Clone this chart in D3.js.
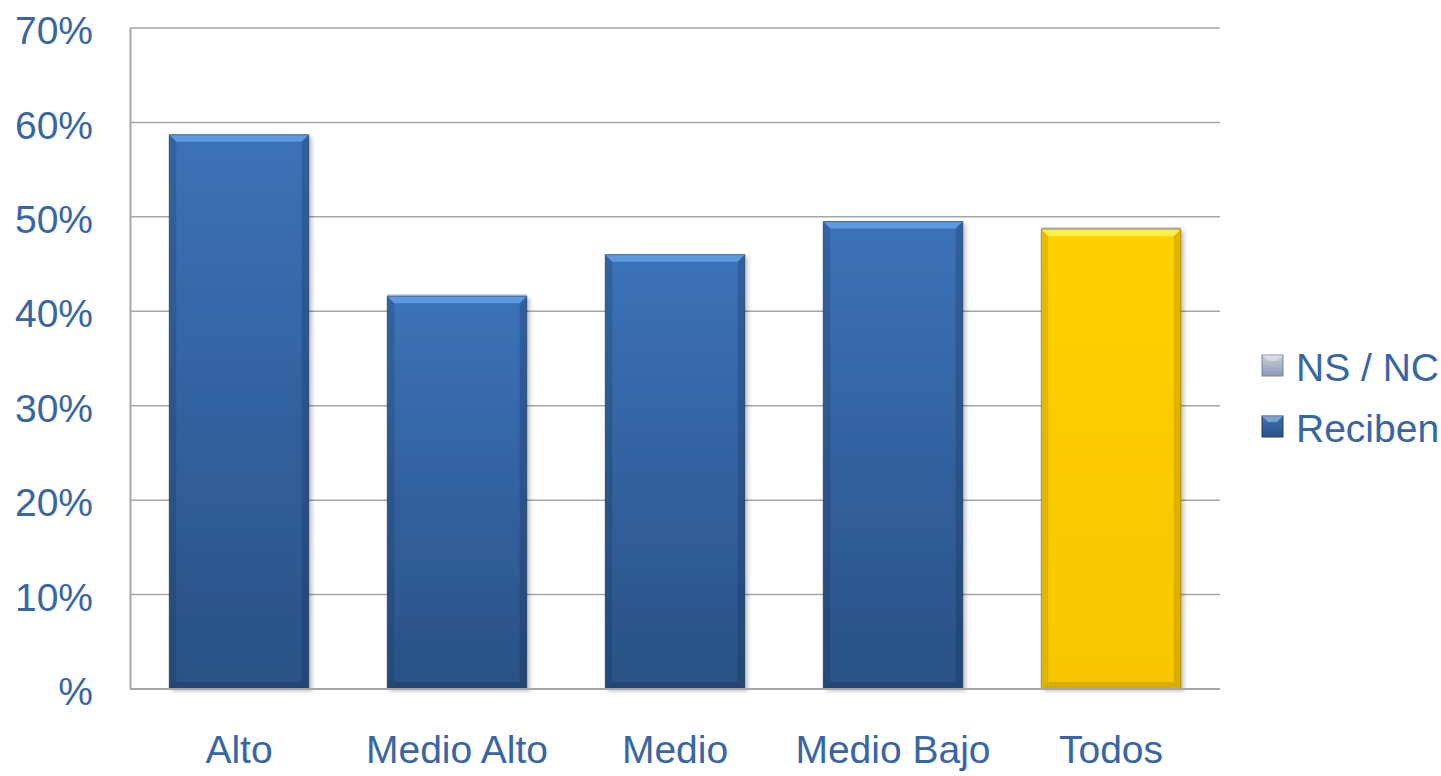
<!DOCTYPE html>
<html>
<head>
<meta charset="utf-8">
<title>Reciben</title>
<style>
body { margin: 0; background: #fff; }
svg { display: block; font-family: "Liberation Sans", Arial, sans-serif; }
.tick text { fill: #3866a4; font-size: 39px; }
</style>
</head>
<body>
<svg width="1441" height="776"></svg>
<script src="https://cdn.jsdelivr.net/npm/d3@7/dist/d3.min.js"></script>
<script>

var categories = ["Alto", "Medio Alto", "Medio", "Medio Bajo", "Todos"];
var reciben = [58.7, 41.6, 46.0, 49.5, 48.7];
var nsnc = [0.0, 0.2, 0.0, 0.0, 0.2];
var yTicks = [0, 10, 20, 30, 40, 50, 60, 70];
var legendKeys = ["NS / NC", "Reciben"];

var svg = d3.select("svg");
var plotLeft = 130, plotRight = 1220, plotTop = 28, plotBottom = 689;

var x = d3.scaleBand().domain(categories).range([plotLeft, plotRight])
    .paddingInner(0.36).paddingOuter(0.18);
var y = d3.scaleLinear().domain([0, 70]).range([plotBottom, plotTop]);

var defs = svg.append("defs");
function grad(id, c0, c1) {
  var g = defs.append("linearGradient").attr("id", id)
      .attr("x1", 0).attr("y1", 0).attr("x2", 0).attr("y2", 1);
  g.append("stop").attr("offset", "0%").attr("stop-color", c0);
  g.append("stop").attr("offset", "100%").attr("stop-color", c1);
}
grad("blue", "#3b72b8", "#2a5185");
grad("gold", "#ffd000", "#f7c600");
grad("grey", "#c6cedb", "#8d9bb4");
var sh = defs.append("filter").attr("id", "shadow")
    .attr("x", "-10%").attr("y", "-10%").attr("width", "130%").attr("height", "130%");
sh.append("feDropShadow").attr("dx", 3).attr("dy", 2).attr("stdDeviation", 2)
    .attr("flood-color", "#000").attr("flood-opacity", 0.25);

// grid
svg.append("g").selectAll("line").data(yTicks.slice(1)).enter().append("line")
    .attr("x1", plotLeft).attr("x2", plotRight)
    .attr("y1", function(d) { return y(d); }).attr("y2", function(d) { return y(d); })
    .attr("stroke", "#a6a6a6").attr("stroke-width", 1.5);

// y axis
var yAxis = svg.append("g").attr("transform", "translate(" + plotLeft + ",0)")
    .call(d3.axisLeft(y).tickValues(yTicks).tickSize(0).tickPadding(37)
      .tickFormat(function(d) { return d === 0 ? "%" : d + "%"; }));
yAxis.select(".domain").attr("stroke", "#a6a6a6").attr("stroke-width", 2);
yAxis.selectAll(".tick text").attr("dy", "0.4em");

// bevelled bar
function bar(g, x0, w, y0, y1, fillId, light, dark) {
  var h = y1 - y0;
  if (h <= 0) return;
  g.append("rect").attr("x", x0).attr("y", y0).attr("width", w).attr("height", h)
      .attr("fill", "url(#" + fillId + ")").attr("filter", "url(#shadow)");
  var b = Math.min(7, h / 2);
  g.append("path").attr("d", "M" + x0 + "," + y0 + "H" + (x0 + w) + "L" + (x0 + w - b) + "," + (y0 + b) +
      "H" + (x0 + b) + "Z").attr("fill", light).attr("opacity", 0.85);
  g.append("path").attr("d", "M" + x0 + "," + y0 + "L" + (x0 + b) + "," + (y0 + b) + "V" + (y1 - b) +
      "L" + x0 + "," + y1 + "Z").attr("fill", dark).attr("opacity", 0.18);
  g.append("path").attr("d", "M" + (x0 + w) + "," + y0 + "L" + (x0 + w - b) + "," + (y0 + b) + "V" + (y1 - b) +
      "L" + (x0 + w) + "," + y1 + "Z").attr("fill", dark).attr("opacity", 0.22);
  g.append("path").attr("d", "M" + x0 + "," + y1 + "L" + (x0 + b) + "," + (y1 - b) + "H" + (x0 + w - b) +
      "L" + (x0 + w) + "," + y1 + "Z").attr("fill", dark).attr("opacity", 0.25);
  g.append("rect").attr("x", x0).attr("y", y0).attr("width", w).attr("height", h)
      .attr("fill", "none").attr("stroke", dark).attr("stroke-opacity", 0.5).attr("stroke-width", 1);
}

var bars = svg.append("g");
categories.forEach(function(c, i) {
  var g = bars.append("g");
  var todos = c === "Todos";
  bar(g, x(c), x.bandwidth(), y(reciben[i]), y(0), todos ? "gold" : "blue",
      todos ? "#fff45a" : "#64a0e6", todos ? "#7a6000" : "#0d2240");
  if (nsnc[i] > 0) {
    g.append("rect").attr("x", x(c)).attr("width", x.bandwidth())
        .attr("y", y(reciben[i] + nsnc[i])).attr("height", y(reciben[i]) - y(reciben[i] + nsnc[i]))
        .attr("fill", "url(#grey)");
  }
});

// bottom axis
var xAxis = svg.append("g").attr("transform", "translate(0," + plotBottom + ")")
    .call(d3.axisBottom(x).tickSize(0).tickPadding(46));
xAxis.select(".domain").attr("stroke", "#a6a6a6").attr("stroke-width", 2)
    .attr("d", "M" + plotLeft + ",0H" + plotRight);

// legend
var legend = svg.append("g").attr("transform", "translate(1262,355)");
legendKeys.forEach(function(k, i) {
  var g = legend.append("g").attr("transform", "translate(0," + (i * 61) + ")");
  var fid = i === 0 ? "grey" : "blue";
  g.append("rect").attr("width", 21).attr("height", 21).attr("fill", "url(#" + fid + ")")
      .attr("stroke", i === 0 ? "#7a869c" : "#1f3d66").attr("stroke-width", 1);
  g.append("path").attr("d", "M0,0H21L15,6H6Z").attr("fill", "#fff").attr("opacity", 0.35);
  g.append("text").attr("x", 34).attr("y", 26).attr("fill", "#3866a4")
      .style("font-size", "39px").text(k);
});

</script>
</body>
</html>
